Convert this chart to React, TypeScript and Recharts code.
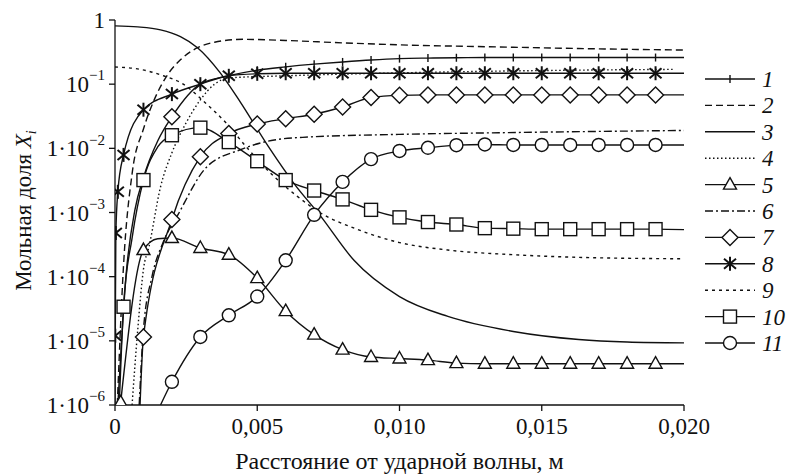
import React from 'react';
import { LineChart, Line, XAxis, YAxis, Label } from 'recharts';

if (typeof document !== 'undefined') document.body.style.margin = '0';

const INK = '#111';
const FONT = '"Liberation Serif", "Times New Roman", serif';

type Pt = { x: number; y: number; m?: number };

// tick values / labels
const xTicks = [0, 0.005, 0.01, 0.015, 0.02];
const xTickLabels = ['0', '0,005', '0,010', '0,015', '0,020'];
const yTicks = [1, 1e-1, 1e-2, 1e-3, 1e-4, 1e-5, 1e-6];
const yTickLabels: [string, string][] = [
  ['1', ''],
  ['10', '−1'],
  ['1·10', '−2'],
  ['1·10', '−3'],
  ['1·10', '−4'],
  ['1·10', '−5'],
  ['1·10', '−6'],
];

// m: 1 = series marker, 2 = stray diamond
const s1: Pt[] = [
  { x: 0.0001, y: 1e-6 }, { x: 0.0004, y: 1.2e-4 }, { x: 0.0007, y: 1.1e-3 },
  { x: 0.001, y: 3.5e-3 }, { x: 0.0015, y: 0.013 }, { x: 0.002, y: 0.031, m: 2 },
  { x: 0.003, y: 0.1, m: 1 }, { x: 0.004, y: 0.135, m: 1 }, { x: 0.005, y: 0.165, m: 1 },
  { x: 0.006, y: 0.186, m: 1 }, { x: 0.007, y: 0.205, m: 1 }, { x: 0.008, y: 0.222, m: 1 },
  { x: 0.009, y: 0.238, m: 1 }, { x: 0.01, y: 0.25, m: 1 }, { x: 0.011, y: 0.255, m: 1 },
  { x: 0.012, y: 0.258, m: 1 }, { x: 0.013, y: 0.26, m: 1 }, { x: 0.014, y: 0.26, m: 1 },
  { x: 0.015, y: 0.26, m: 1 }, { x: 0.016, y: 0.26, m: 1 }, { x: 0.017, y: 0.26, m: 1 },
  { x: 0.018, y: 0.26, m: 1 }, { x: 0.019, y: 0.26, m: 1 }, { x: 0.02, y: 0.26 },
];

const s2: Pt[] = [
  { x: 0.00008, y: 1e-6 }, { x: 0.0003, y: 1.5e-4 }, { x: 0.0006, y: 4e-3 },
  { x: 0.001, y: 0.02 }, { x: 0.0014, y: 0.06 }, { x: 0.0018, y: 0.13 },
  { x: 0.0023, y: 0.24 }, { x: 0.0029, y: 0.37 }, { x: 0.0035, y: 0.45 },
  { x: 0.0045, y: 0.5 }, { x: 0.006, y: 0.48 }, { x: 0.008, y: 0.44 },
  { x: 0.01, y: 0.41 }, { x: 0.0135, y: 0.38 }, { x: 0.017, y: 0.355 }, { x: 0.02, y: 0.34 },
];

const s3: Pt[] = [
  { x: 0, y: 0.81 }, { x: 0.0008, y: 0.78 }, { x: 0.0016, y: 0.7 }, { x: 0.0023, y: 0.55 },
  { x: 0.0029, y: 0.37 }, { x: 0.0037, y: 0.15 }, { x: 0.0044, y: 0.053 },
  { x: 0.0054, y: 0.0105 }, { x: 0.0063, y: 2.8e-3 }, { x: 0.0072, y: 9.1e-4 },
  { x: 0.0084, y: 1.8e-4 }, { x: 0.01, y: 4.9e-5 }, { x: 0.0117, y: 2.4e-5 },
  { x: 0.014, y: 1.4e-5 }, { x: 0.0163, y: 1.05e-5 }, { x: 0.018, y: 9.6e-6 }, { x: 0.02, y: 9.3e-6 },
];

const s4: Pt[] = [
  { x: 0.0006, y: 1e-6 }, { x: 0.0008, y: 1.5e-5 }, { x: 0.001, y: 1.3e-4 },
  { x: 0.0012, y: 3e-4 }, { x: 0.0016, y: 2.5e-3 }, { x: 0.002, y: 8.5e-3 },
  { x: 0.0025, y: 0.025 }, { x: 0.003, y: 0.057 }, { x: 0.0035, y: 0.1 },
  { x: 0.004, y: 0.125 }, { x: 0.006, y: 0.135 }, { x: 0.01, y: 0.15 },
  { x: 0.015, y: 0.163 }, { x: 0.0196, y: 0.17 },
];

const s5: Pt[] = [
  { x: 0.0002, y: 1.1e-6, m: 1 }, { x: 0.001, y: 2.6e-4, m: 1 }, { x: 0.0015, y: 3.9e-4 },
  { x: 0.002, y: 4e-4, m: 1 }, { x: 0.003, y: 2.8e-4, m: 1 }, { x: 0.004, y: 2.2e-4, m: 1 },
  { x: 0.005, y: 9.5e-5, m: 1 }, { x: 0.006, y: 2.9e-5, m: 1 }, { x: 0.007, y: 1.25e-5, m: 1 },
  { x: 0.008, y: 7.3e-6, m: 1 }, { x: 0.009, y: 5.6e-6, m: 1 }, { x: 0.01, y: 5.3e-6, m: 1 },
  { x: 0.011, y: 5e-6, m: 1 }, { x: 0.012, y: 4.5e-6, m: 1 }, { x: 0.013, y: 4.4e-6, m: 1 },
  { x: 0.014, y: 4.4e-6, m: 1 }, { x: 0.015, y: 4.4e-6, m: 1 }, { x: 0.016, y: 4.4e-6, m: 1 },
  { x: 0.017, y: 4.4e-6, m: 1 }, { x: 0.018, y: 4.4e-6, m: 1 }, { x: 0.019, y: 4.4e-6, m: 1 },
  { x: 0.02, y: 4.4e-6 },
];

const s6: Pt[] = [
  { x: 0.00085, y: 1e-6 }, { x: 0.001, y: 1.5e-5 }, { x: 0.0013, y: 1e-4 },
  { x: 0.0017, y: 3.5e-4 }, { x: 0.0022, y: 9e-4 }, { x: 0.0032, y: 5e-3 },
  { x: 0.0044, y: 9.5e-3 }, { x: 0.0056, y: 0.0135 }, { x: 0.0068, y: 0.015 },
  { x: 0.01, y: 0.0165 }, { x: 0.0135, y: 0.0175 }, { x: 0.02, y: 0.019 },
];

const s7: Pt[] = [
  { x: 0.00088, y: 1e-6 }, { x: 0.001, y: 1.15e-5, m: 1 }, { x: 0.002, y: 7.8e-4, m: 1 },
  { x: 0.003, y: 7.4e-3, m: 1 }, { x: 0.004, y: 0.017, m: 1 }, { x: 0.005, y: 0.024, m: 1 },
  { x: 0.006, y: 0.029, m: 1 }, { x: 0.007, y: 0.034, m: 1 }, { x: 0.008, y: 0.044, m: 1 },
  { x: 0.009, y: 0.062, m: 1 }, { x: 0.01, y: 0.067, m: 1 }, { x: 0.011, y: 0.068, m: 1 },
  { x: 0.012, y: 0.068, m: 1 }, { x: 0.013, y: 0.068, m: 1 }, { x: 0.014, y: 0.068, m: 1 },
  { x: 0.015, y: 0.068, m: 1 }, { x: 0.016, y: 0.068, m: 1 }, { x: 0.017, y: 0.068, m: 1 },
  { x: 0.018, y: 0.068, m: 1 }, { x: 0.019, y: 0.068, m: 1 }, { x: 0.02, y: 0.068 },
];

const s8: Pt[] = [
  { x: 0, y: 1e-6 }, { x: 0.00001, y: 1.2e-5, m: 1 }, { x: 0.00003, y: 4.8e-4, m: 1 },
  { x: 0.0001, y: 2.1e-3, m: 1 }, { x: 0.0003, y: 7.9e-3, m: 1 }, { x: 0.001, y: 0.04, m: 1 },
  { x: 0.002, y: 0.07, m: 1 }, { x: 0.003, y: 0.1, m: 1 }, { x: 0.004, y: 0.135, m: 1 },
  { x: 0.005, y: 0.145, m: 1 }, { x: 0.006, y: 0.148, m: 1 }, { x: 0.007, y: 0.148, m: 1 },
  { x: 0.008, y: 0.148, m: 1 }, { x: 0.009, y: 0.148, m: 1 }, { x: 0.01, y: 0.148, m: 1 },
  { x: 0.011, y: 0.148, m: 1 }, { x: 0.012, y: 0.148, m: 1 }, { x: 0.013, y: 0.148, m: 1 },
  { x: 0.014, y: 0.148, m: 1 }, { x: 0.015, y: 0.148, m: 1 }, { x: 0.016, y: 0.148, m: 1 },
  { x: 0.017, y: 0.148, m: 1 }, { x: 0.018, y: 0.148, m: 1 }, { x: 0.019, y: 0.148, m: 1 },
  { x: 0.02, y: 0.148 },
];

const s9: Pt[] = [
  { x: 0, y: 0.185 }, { x: 0.0009, y: 0.17 }, { x: 0.0016, y: 0.14 }, { x: 0.0024, y: 0.1 },
  { x: 0.0032, y: 0.05 }, { x: 0.0039, y: 0.025 }, { x: 0.0047, y: 9.5e-3 },
  { x: 0.0056, y: 3.6e-3 }, { x: 0.0064, y: 1.8e-3 }, { x: 0.0072, y: 1e-3 },
  { x: 0.0085, y: 5.5e-4 }, { x: 0.01, y: 3.4e-4 }, { x: 0.0117, y: 2.6e-4 },
  { x: 0.014, y: 2.2e-4 }, { x: 0.0163, y: 2e-4 }, { x: 0.02, y: 1.9e-4 },
];

const s10: Pt[] = [
  { x: 0.00015, y: 1e-6 }, { x: 0.0003, y: 3.4e-5, m: 1 }, { x: 0.0006, y: 4e-4 },
  { x: 0.001, y: 3.2e-3, m: 1 }, { x: 0.0015, y: 0.0105 }, { x: 0.002, y: 0.016, m: 1 },
  { x: 0.003, y: 0.021, m: 1 }, { x: 0.004, y: 0.0125, m: 1 }, { x: 0.005, y: 6.3e-3, m: 1 },
  { x: 0.006, y: 3.2e-3, m: 1 }, { x: 0.007, y: 2.2e-3, m: 1 }, { x: 0.008, y: 1.6e-3, m: 1 },
  { x: 0.009, y: 1.1e-3, m: 1 }, { x: 0.01, y: 8.4e-4, m: 1 }, { x: 0.011, y: 7.1e-4, m: 1 },
  { x: 0.012, y: 6.5e-4, m: 1 }, { x: 0.013, y: 5.7e-4, m: 1 }, { x: 0.014, y: 5.6e-4, m: 1 },
  { x: 0.015, y: 5.5e-4, m: 1 }, { x: 0.016, y: 5.5e-4, m: 1 }, { x: 0.017, y: 5.5e-4, m: 1 },
  { x: 0.018, y: 5.5e-4, m: 1 }, { x: 0.019, y: 5.5e-4, m: 1 }, { x: 0.02, y: 5.4e-4 },
];

const s11: Pt[] = [
  { x: 0.0016, y: 1e-6 }, { x: 0.002, y: 2.3e-6, m: 1 }, { x: 0.003, y: 1.15e-5, m: 1 },
  { x: 0.004, y: 2.5e-5, m: 1 }, { x: 0.005, y: 4.9e-5, m: 1 }, { x: 0.006, y: 1.8e-4, m: 1 },
  { x: 0.007, y: 9.2e-4, m: 1 }, { x: 0.008, y: 3e-3, m: 1 }, { x: 0.009, y: 6.8e-3, m: 1 },
  { x: 0.01, y: 9.1e-3, m: 1 }, { x: 0.011, y: 0.0102, m: 1 }, { x: 0.012, y: 0.0112, m: 1 },
  { x: 0.013, y: 0.0115, m: 1 }, { x: 0.014, y: 0.0113, m: 1 }, { x: 0.015, y: 0.0113, m: 1 },
  { x: 0.016, y: 0.0113, m: 1 }, { x: 0.017, y: 0.0113, m: 1 }, { x: 0.018, y: 0.0113, m: 1 },
  { x: 0.019, y: 0.0113, m: 1 }, { x: 0.02, y: 0.0113 },
];

type Kind = 'none' | 'tick' | 'tri' | 'diamond' | 'star' | 'square' | 'circle';

const series: { name: string; data: Pt[]; dash?: string; marker: Kind }[] = [
  { name: '1', data: s1, marker: 'tick' },
  { name: '2', data: s2, dash: '7 4', marker: 'none' },
  { name: '3', data: s3, marker: 'none' },
  { name: '4', data: s4, dash: '1.5 2.5', marker: 'none' },
  { name: '5', data: s5, marker: 'tri' },
  { name: '6', data: s6, dash: '8 3 2 3', marker: 'none' },
  { name: '7', data: s7, marker: 'diamond' },
  { name: '8', data: s8, marker: 'star' },
  { name: '9', data: s9, dash: '3 4', marker: 'none' },
  { name: '10', data: s10, marker: 'square' },
  { name: '11', data: s11, marker: 'circle' },
];

function Mark({ kind, cx, cy }: { kind: Kind; cx: number; cy: number }) {
  const sw = 1.4;
  switch (kind) {
    case 'tick':
      return <line x1={cx} x2={cx} y1={cy - 4} y2={cy + 4} stroke={INK} strokeWidth={sw} />;
    case 'tri':
      return (
        <polygon
          points={`${cx},${cy - 7} ${cx + 6.5},${cy + 4.5} ${cx - 6.5},${cy + 4.5}`}
          fill="#fff" stroke={INK} strokeWidth={sw}
        />
      );
    case 'diamond':
      return (
        <polygon
          points={`${cx},${cy - 8} ${cx + 8},${cy} ${cx},${cy + 8} ${cx - 8},${cy}`}
          fill="#fff" stroke={INK} strokeWidth={sw}
        />
      );
    case 'star':
      return (
        <g stroke={INK} strokeWidth={2}>
          <line x1={cx} x2={cx} y1={cy - 7} y2={cy + 7} />
          <line x1={cx - 6} x2={cx + 6} y1={cy - 5} y2={cy + 5} />
          <line x1={cx - 6} x2={cx + 6} y1={cy + 5} y2={cy - 5} />
        </g>
      );
    case 'square':
      return <rect x={cx - 6.5} y={cy - 6.5} width={13} height={13} fill="#fff" stroke={INK} strokeWidth={sw} />;
    case 'circle':
      return <circle cx={cx} cy={cy} r={6.5} fill="#fff" stroke={INK} strokeWidth={sw} />;
    default:
      return null;
  }
}

function YTick(props: any) {
  const { x, y, payload } = props;
  const e = Math.round(-Math.log10(payload.value));
  const [base, sup] = yTickLabels[e] || ['', ''];
  const supW = sup ? 16 : 0;
  return (
    <g>
      <text x={x - supW} y={y} dy="0.35em" textAnchor="end" fontFamily={FONT} fontSize={23} fill={INK}>
        {base}
      </text>
      {sup && (
        <text x={x} y={y - 9} dy="0.35em" textAnchor="end" fontFamily={FONT} fontSize={15} fill={INK}>
          {sup}
        </text>
      )}
    </g>
  );
}

function YTitle(props: any) {
  const vb = props.viewBox || { x: 0, y: 20, height: 385 };
  const cx = 23;
  const cy = vb.y + vb.height / 2 - 2;
  return (
    <text
      x={cx}
      y={cy}
      dy="0.35em"
      transform={`rotate(-90 ${cx} ${cy})`}
      textAnchor="middle"
      fontFamily={FONT}
      fontSize={23}
      fill={INK}
    >
      Мольная доля <tspan fontStyle="italic">X</tspan>
      <tspan fontStyle="italic" fontSize={14} dy={5}>
        i
      </tspan>
    </text>
  );
}

// key drawn beside the plot, one row per series
function LegendBox() {
  return (
    <svg width={91} height={300} style={{ position: 'absolute', top: 60, left: 700 }}>
      {series.map((s, i) => {
        const y = 19 + i * 26.4;
        return (
          <g key={s.name}>
            <line x1={5} x2={55} y1={y} y2={y} stroke={INK} strokeWidth={1.4} strokeDasharray={s.dash} />
            <Mark kind={s.marker} cx={30} cy={y} />
            <text x={62} y={y} dy="0.35em" fontFamily={FONT} fontStyle="italic" fontSize={23} fill={INK}>
              {s.name}
            </text>
          </g>
        );
      })}
    </svg>
  );
}

export default function App() {
  return (
    <div style={{ position: 'relative', width: 791, height: 475, background: '#fff' }}>
      <LineChart width={791} height={475} margin={{ top: 20, right: 107, bottom: 0, left: 0 }}>
        <XAxis
          dataKey="x"
          type="number"
          domain={[0, 0.02]}
          ticks={xTicks}
          allowDataOverflow
          height={70}
          tickSize={6}
          tickMargin={7}
          interval={0}
          axisLine={{ stroke: INK, strokeWidth: 1.3 }}
          tickLine={{ stroke: INK, strokeWidth: 1.3 }}
          tick={{ fill: INK, fontSize: 23, fontFamily: FONT }}
          tickFormatter={(v: number) => xTickLabels[xTicks.indexOf(v)] ?? ''}
        >
          <Label
            value="Расстояние от ударной волны, м"
            position="insideBottom"
            offset={6}
            style={{ fill: INK, fontSize: 24, fontFamily: FONT }}
          />
        </XAxis>
        <YAxis
          type="number"
          scale="log"
          domain={[1e-6, 1]}
          ticks={yTicks}
          allowDataOverflow
          width={115}
          tickSize={6}
          tickMargin={4}
          interval={0}
          axisLine={{ stroke: INK, strokeWidth: 1.3 }}
          tickLine={{ stroke: INK, strokeWidth: 1.3 }}
          tick={<YTick />}
        >
          <Label content={<YTitle />} />
        </YAxis>
        {series.map((s) => (
          <Line
            key={s.name}
            name={s.name}
            data={s.data}
            dataKey="y"
            type="monotone"
            stroke={INK}
            strokeWidth={1.4}
            strokeDasharray={s.dash}
            isAnimationActive={false}
            activeDot={false}
            legendType="none"
            dot={(p: any) => {
              const m = p.payload && p.payload.m;
              if (!m || s.marker === 'none') return <g key={`d${p.index}`} />;
              return (
                <g key={`d${p.index}`}>
                  <Mark kind={m === 2 ? 'diamond' : s.marker} cx={p.cx} cy={p.cy} />
                </g>
              );
            }}
          />
        ))}
      </LineChart>
      <LegendBox />
    </div>
  );
}
